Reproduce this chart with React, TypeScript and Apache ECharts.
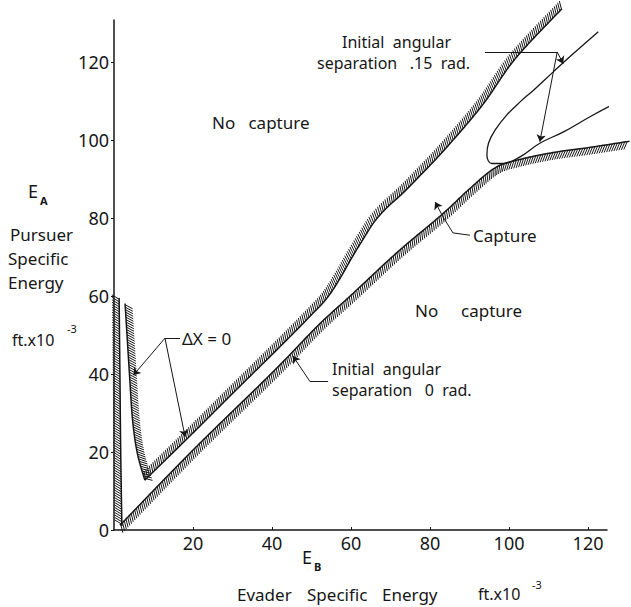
import { useEffect, useRef } from "react";
import * as echarts from "echarts";

// Axis tick labels (ft x 10^-3)
const xTickValues = [20, 40, 60, 80, 100, 120];
const yTickValues = [0, 20, 40, 60, 80, 100, 120];

// Boundary curves, E_B on x and E_A on y (ft x 10^-3); each array traces the solid edge
const leftWallX = [1.3, 1.5, 1.7, 2.0];
const leftWallY = [59.5, 40, 20, 1];

const deltaXArmX = [2.8, 3.9, 4.7, 5.9, 7.8];
const deltaXArmY = [58.1, 40.2, 28.2, 19.7, 12.8];

const upperBoundX = [7.8, 19.7, 30, 42, 50, 54, 57.2, 60.3, 63.2, 65.8, 68.8, 72.9, 77.1, 83.9, 93.2, 101.6, 113.4];
const upperBoundY = [12.8, 24.6, 35, 47, 55.2, 59.6, 64.5, 70, 74.8, 78.9, 82.4, 86.2, 90.5, 97.8, 108.9, 120.9, 133.7];

const lowerBoundX = [1.5, 20, 40, 51.7, 60.1, 71.9, 82.9, 90, 96.5, 102.6, 111.1, 119.6, 130.5];
const lowerBoundY = [1.2, 20.5, 40.3, 52.5, 60.3, 71.4, 80.8, 87.5, 92.9, 95, 96.8, 98, 99.7];

// Initial angular separation .15 rad boundary
const loopX = [122.6, 116.3, 111.2, 106.2, 102.8, 99.4, 96.5, 94.8, 94.4, 95.6, 98.6, 102.8, 107.8, 113.8, 120.5, 128.5];
const loopY = [127.8, 122.2, 117.5, 112.8, 109.8, 106.4, 102.6, 99.2, 96.2, 94, 94, 95.7, 99.2, 102.1, 106, 110.3];

// Leader lines: plain segments and arrow-ended segments, in data units
const leaderSegments: number[][][] = [
  [[16.7, 49.2], [12.9, 49.2]],
  [[90.1, 75.6], [85.8, 76.2]],
  [[85.8, 76.2], [83.3, 80.3]],
  [[54.2, 38.1], [49.6, 38.1]],
  [[93.9, 122.6], [112.2, 122.6]],
];
const arrowSegments: number[][][] = [
  [[12.9, 49.2], [4.9, 39.7]],
  [[12.9, 49.2], [18.0, 23.9]],
  [[83.3, 80.3], [81.3, 84.1]],
  [[49.6, 38.1], [45.3, 44.6]],
  [[112.2, 122.6], [113.7, 119.6]],
  [[112.2, 122.6], [107.8, 99.6]],
];

const INK = "#161616";
const FONT = '"Noto Sans", "DejaVu Sans", sans-serif';
const HATCH_GAP = 2.5;
const HATCH_LEN = 8.5;
const HATCH_TILT = (32 * Math.PI) / 180;

// Catmull-Rom sampling in pixel space, for drawing a smooth edge
function sampleSpline(pts: number[][]): number[][] {
  const out: number[][] = [];
  const n = pts.length;
  for (let i = 0; i < n - 1; i++) {
    const p0 = pts[Math.max(i - 1, 0)];
    const p1 = pts[i];
    const p2 = pts[i + 1];
    const p3 = pts[Math.min(i + 2, n - 1)];
    const segs = Math.max(2, Math.ceil(Math.hypot(p2[0] - p1[0], p2[1] - p1[1]) / 2));
    for (let s = 0; s < segs; s++) {
      const t = s / segs;
      const t2 = t * t;
      const t3 = t2 * t;
      const f = (a: number, b: number, c: number, d: number) =>
        0.5 * (2 * b + (-a + c) * t + (2 * a - 5 * b + 4 * c - d) * t2 + (-a + 3 * b - 3 * c + d) * t3);
      out.push([f(p0[0], p1[0], p2[0], p3[0]), f(p0[1], p1[1], p2[1], p3[1])]);
    }
  }
  out.push(pts[n - 1]);
  return out;
}

// A boundary drawn as a solid edge with slanted hatching on one side
function hatchedBoundary(name: string, xs: number[], ys: number[], side: number) {
  const data = xs.map((x, i) => [x, ys[i]]);
  return {
    type: "custom",
    name,
    coordinateSystem: "cartesian2d",
    clip: false,
    silent: true,
    data,
    renderItem: (params: any, api: any) => {
      if (params.dataIndex !== 0) return null;
      const pts = data.map((d) => api.coord(d));
      const path = sampleSpline(pts);
      const children: any[] = [
        {
          type: "polyline",
          shape: { points: path },
          style: { stroke: INK, lineWidth: 1.5, fill: null },
        },
      ];
      const cos = Math.cos(HATCH_TILT);
      const sin = Math.sin(HATCH_TILT);
      let acc = HATCH_GAP / 2;
      for (let i = 1; i < path.length; i++) {
        const [x0, y0] = path[i - 1];
        const [x1, y1] = path[i];
        const seg = Math.hypot(x1 - x0, y1 - y0);
        if (!seg) continue;
        const tx = (x1 - x0) / seg;
        const ty = (y1 - y0) / seg;
        const nx = -ty * side;
        const ny = tx * side;
        const dx = nx * cos - side * tx * sin;
        const dy = ny * cos - side * ty * sin;
        while (acc <= seg) {
          const px = x0 + tx * acc;
          const py = y0 + ty * acc;
          children.push({
            type: "line",
            shape: { x1: px, y1: py, x2: px + dx * HATCH_LEN, y2: py + dy * HATCH_LEN },
            style: { stroke: INK, lineWidth: 1 },
          });
          acc += HATCH_GAP;
        }
        acc -= seg;
      }
      return { type: "group", children };
    },
  };
}

function label(text: string, x: number, y: number, size = 17, weight: string = "normal") {
  return {
    type: "text",
    x,
    y,
    silent: true,
    style: {
      text,
      fontSize: size,
      fontFamily: FONT,
      fontWeight: weight,
      fill: INK,
      align: "left",
      verticalAlign: "middle",
    },
  };
}

export default function App() {
  const ref = useRef<HTMLDivElement>(null);

  useEffect(() => {
    if (!ref.current) return;
    const chart = echarts.init(ref.current, undefined, { renderer: "svg" });
    const axisFont = { fontSize: 18, fontFamily: FONT, color: INK };

    chart.setOption({
      animation: false,
      backgroundColor: "#ffffff",
      grid: { left: 114, right: 24, top: 20, bottom: 77, containLabel: false },
      xAxis: {
        type: "value",
        min: 0,
        max: 124.8,
        interval: 20,
        axisLine: { lineStyle: { color: INK, width: 1.5 } },
        axisTick: { inside: true, length: 3, customValues: xTickValues, lineStyle: { color: INK } },
        axisLabel: { ...axisFont, margin: 4, customValues: xTickValues },
        splitLine: { show: false },
      },
      yAxis: {
        type: "value",
        min: 0,
        max: 130.8,
        interval: 20,
        axisLine: { show: true, lineStyle: { color: INK, width: 1.5 } },
        axisTick: { show: true, inside: false, length: 3, customValues: yTickValues, lineStyle: { color: INK } },
        axisLabel: { ...axisFont, margin: 5, customValues: yTickValues },
        splitLine: { show: false },
      },
      series: [
        hatchedBoundary("leftWall", leftWallX, leftWallY, 1),
        hatchedBoundary("deltaXArm", deltaXArmX, deltaXArmY, -1),
        hatchedBoundary("upperBound", upperBoundX, upperBoundY, -1),
        hatchedBoundary("lowerBound", lowerBoundX, lowerBoundY, 1),
        {
          type: "line",
          name: "separation015",
          data: loopX.map((x, i) => [x, loopY[i]]),
          smooth: 0.4,
          symbol: "none",
          clip: false,
          silent: true,
          lineStyle: { color: INK, width: 1.3 },
        },
        {
          type: "lines",
          coordinateSystem: "cartesian2d",
          silent: true,
          symbol: ["none", "none"],
          lineStyle: { color: INK, width: 1, opacity: 1 },
          data: leaderSegments.map((c) => ({ coords: c })),
        },
        {
          type: "lines",
          coordinateSystem: "cartesian2d",
          silent: true,
          symbol: ["none", "arrow"],
          symbolSize: 7,
          lineStyle: { color: INK, width: 1, opacity: 1 },
          data: arrowSegments.map((c) => ({ coords: c })),
        },
      ],
      graphic: [
        label("No   capture", 212, 122),
        label("E", 28, 191, 18),
        label("A", 40, 200, 11, "bold"),
        label("Pursuer", 10, 234),
        label("Specific", 8, 258),
        label("Energy", 8, 282),
        label("ft.x10", 12, 340, 16),
        label("-3", 67, 328, 11),
        label("ΔX = 0", 182, 338),
        label("Capture", 473, 235),
        label("No", 415, 310),
        label("capture", 461, 310),
        label("Initial  angular", 332, 369, 16),
        label("separation   0  rad.", 332, 390, 16),
        label("Initial  angular", 342, 42, 16),
        label("separation   .15  rad.", 317, 63, 16),
        label("E", 302, 557, 18),
        label("B", 314, 566, 11, "bold"),
        label("Evader", 237, 594),
        label("Specific", 307, 594),
        label("Energy", 382, 594),
        label("ft.x10", 478, 594, 16),
        label("-3", 532, 584, 11),
      ],
    });

    return () => chart.dispose();
  }, []);

  return (
    <div
      ref={ref}
      style={{ position: "fixed", left: 0, top: 0, width: 631, height: 607, background: "#ffffff" }}
    />
  );
}
